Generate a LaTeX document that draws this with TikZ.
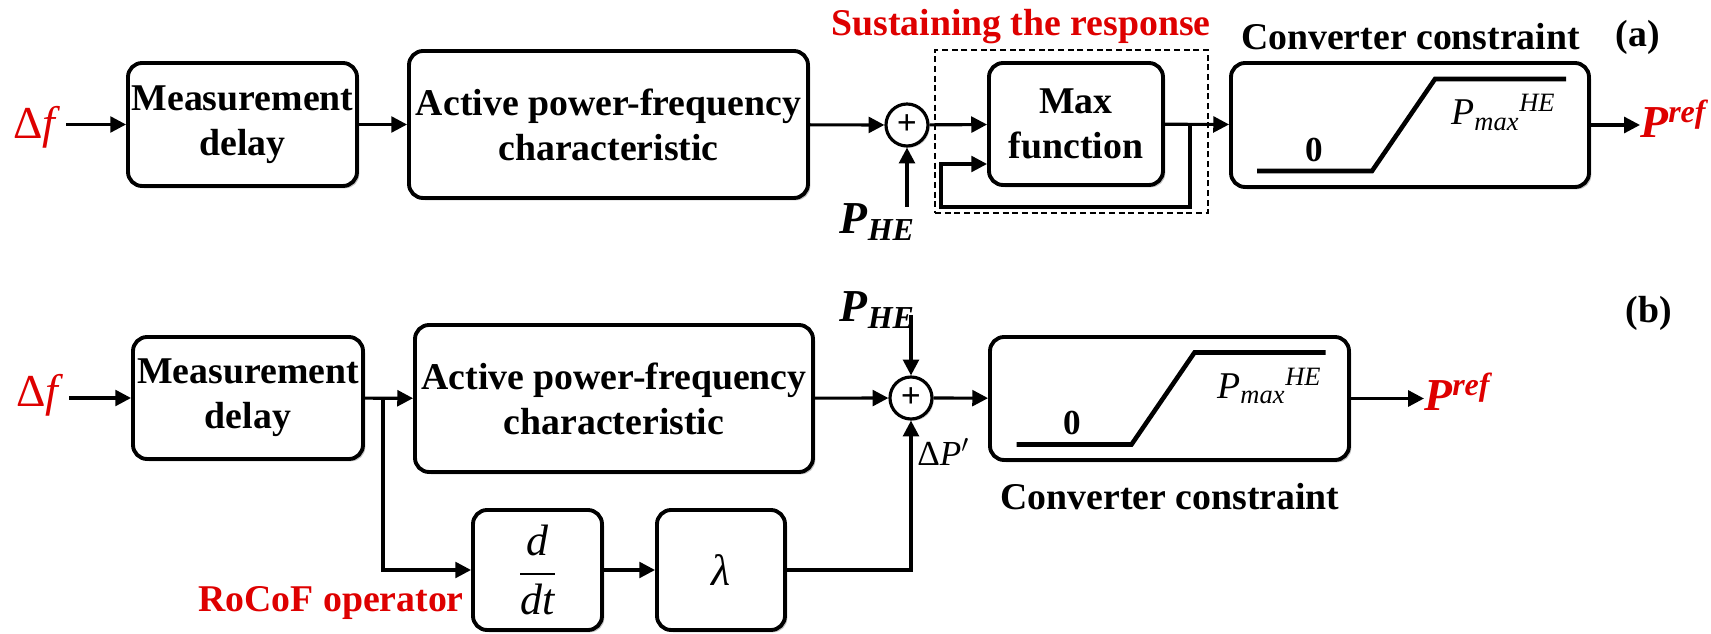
\documentclass[tikz,border=0pt]{standalone}
\usepackage{amsmath}
\usepackage{fontspec}
\setmainfont{Liberation Serif}
\usepackage{xcolor}
\definecolor{lblred}{RGB}{222,0,0}
\usepackage{tikz}
\usetikzlibrary{positioning, arrows.meta, shadows, calc}

\newcommand{\blkfont}{\fontsize{21.5}{25.6}\selectfont\bfseries}
\newcommand{\symfont}{\fontsize{26}{30}\selectfont}

\begin{document}
\begin{tikzpicture}[
  block/.style={draw, line width=2.2pt, rounded corners=8pt, fill=white,
               drop shadow={opacity=0.5, shadow xshift=1.3pt, shadow yshift=-1.3pt},
               align=center, font=\blkfont, inner sep=0pt},
  sumnode/.style={circle, draw, line width=1.8pt, minimum size=0.84cm,
                 inner sep=0pt, fill=white, font=\fontsize{20}{20}\selectfont\bfseries,
                 drop shadow={opacity=0.45, shadow xshift=1pt, shadow yshift=-1pt}},
  arr/.style={-{Triangle[length=9pt, width=9pt]}, line width=1.8pt},
  sat/.style={line width=2.6pt},
  dashbox/.style={draw, dashed, line width=0.9pt, dash pattern=on 3.5pt off 2pt},
  redlbl/.style={font=\blkfont, text=lblred, inner sep=2pt},
  blklbl/.style={font=\blkfont, inner sep=2pt},
  redsym/.style={font=\symfont, text=lblred, inner sep=3pt},
  sym/.style={font=\symfont, inner sep=2pt},
]
\useasboundingbox (0,0) rectangle (34.22,-12.68);

% ---------- (a) ----------
\node[redsym] (dfa) at (0.74,-2.54) {Δ\textit{f}};
\node[block, minimum width=4.58cm, minimum height=2.46cm] (mda) at (4.85,-2.49) {Measurement\\delay};
\node[block, minimum width=7.98cm, minimum height=2.94cm] (apfa) at (12.17,-2.49) {Active power-frequency\\characteristic};
\node[sumnode] (suma) at (18.14,-2.5) {+};
\node[sym, anchor=base west] (pha) at (16.72,-4.68) {\bfseries\itshape P$_{\text{\bfseries\itshape HE}}$};
\coordinate (pha-in) at (18.14,-4.14);

% sustaining the response
\node[dashbox, minimum width=5.46cm, minimum height=3.26cm] (susta) at (21.43,-2.63) {};
\node[redlbl] (sustlbl) at (20.42,-0.54) {Sustaining the response};
\node[block, minimum width=3.48cm, minimum height=2.44cm] (maxa) at (21.52,-2.48) {Max\\function};
\coordinate (maxa-in2) at ($(maxa.west)+(0,-0.8)$);
\coordinate (tapa) at (23.8,-2.5);
\coordinate (fbla) at (18.82,-4.14);

% converter constraint
\node[block, minimum width=7.16cm, minimum height=2.48cm] (cca) at (28.2,-2.5) {};
\draw[sat] ($(cca.center)+(-3.06,-0.92)$) -- ++(2.3,0) -- ++(1.26,1.84) -- ++(2.62,0);
\node[blklbl, font=\fontsize{20}{24}\selectfont\bfseries, anchor=base] (zeroa) at ($(cca.center)+(-1.92,-0.74)$) {0};
\node[font=\blkfont\mdseries\itshape, anchor=base west, inner sep=0pt] (pmaxa) at ($(cca.center)+(0.82,0)$) {P$_{\text{max}}{}^{\text{HE}}$};
\node[blklbl] (cclbla) at (28.21,-0.74) {Converter constraint};
\node[blklbl] (taga) at (32.76,-0.74) {(a)};
\node[redsym, anchor=base west, inner sep=0pt] (prefa) at (32.8,-2.76) {\bfseries\itshape P\textsuperscript{ref}};

\draw[arr] (dfa.east |- mda) -- (mda);
\draw[arr] (mda) -- (apfa);
\draw[arr] (apfa) -- (suma);
\draw[arr] (pha-in) -- (suma);
\draw[arr] (suma) -- (maxa);
\draw[arr] (maxa) -- (cca);
\draw[arr] (tapa) |- (fbla) |- (maxa-in2);
\draw[arr] (cca.east) -- (cca.east -| prefa.west);

% ---------- (b) ----------
\node[redsym] (dfb) at (0.8,-7.9) {Δ\textit{f}};
\node[block, minimum width=4.6cm, minimum height=2.44cm] (mdb) at (4.96,-7.96) {Measurement\\delay};
\node[block, minimum width=7.96cm, minimum height=2.94cm] (apfb) at (12.28,-7.97) {Active power-frequency\\characteristic};
\coordinate (tapb) at (7.66,-7.96);
\node[block, minimum width=2.58cm, minimum height=2.4cm, font=\fontsize{25}{29}\selectfont] (ddt) at (10.75,-11.4) {$\dfrac{\text{\itshape d}}{\text{\itshape dt}}$};
\node[block, minimum width=2.56cm, minimum height=2.4cm, font=\fontsize{25}{29}\selectfont\itshape] (lam) at (14.42,-11.4) {λ};
\node[redlbl] (rocof) at (6.62,-12.06) {RoCoF operator};
\node[sumnode] (sumb) at (18.22,-7.96) {+};
\node[sym, anchor=base west] (phb) at (16.72,-6.44) {\bfseries\itshape P$_{\text{\bfseries\itshape HE}}$};
\coordinate (phb-in) at (18.22,-6.3);
\node[font=\fontsize{20}{24}\selectfont, anchor=base west, inner sep=0pt] (dpb) at (18.34,-9.32) {Δ\textit{P}$'$};

% converter constraint
\node[block, minimum width=7.18cm, minimum height=2.46cm] (ccb) at (23.39,-7.97) {};
\draw[sat] ($(ccb.center)+(-3.06,-0.92)$) -- ++(2.3,0) -- ++(1.26,1.84) -- ++(2.62,0);
\node[blklbl, font=\fontsize{20}{24}\selectfont\bfseries, anchor=base] (zerob) at ($(ccb.center)+(-1.95,-0.72)$) {0};
\node[font=\blkfont\mdseries\itshape, anchor=base west, inner sep=0pt] (pmaxb) at ($(ccb.center)+(0.95,0)$) {P$_{\text{max}}{}^{\text{HE}}$};
\node[blklbl] (cclblb) at (23.4,-9.94) {Converter constraint};
\node[blklbl] (tagb) at (32.98,-6.26) {(b)};
\node[redsym, anchor=base west, inner sep=0pt] (prefb) at (28.48,-8.22) {\bfseries\itshape P\textsuperscript{ref}};

\draw[arr] (dfb.east |- mdb) -- (mdb);
\draw[arr] (mdb) -- (apfb);
\draw[arr] (tapb) |- (ddt);
\draw[arr] (ddt) -- (lam);
\draw[arr] (lam) -| (sumb);
\draw[arr] (apfb) -- (sumb);
\draw[arr] (phb-in) -- (sumb);
\draw[arr] (sumb) -- (ccb);
\draw[arr] (ccb.east) -- (ccb.east -| prefb.west);
\end{tikzpicture}
\end{document}
